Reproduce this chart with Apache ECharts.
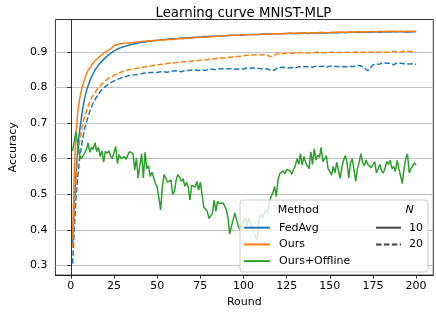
<!DOCTYPE html>
<html><head><meta charset="utf-8">
<script src="https://cdn.jsdelivr.net/npm/echarts@6/dist/echarts.min.js"></script>
<style>html,body{margin:0;padding:0;background:#fff}#c{width:436px;height:313px}</style>
</head><body><div id="c"></div>
<script>
const chartTitle = 'Learning curve MNIST-MLP';
const xName = 'Round';
const yName = 'Accuracy';
const xTicks = [0,25,50,75,100,125,150,175,200];
const yTicks = [0.3,0.4,0.5,0.6,0.7,0.8,0.9];
const rounds = Array.from({length:200},(_,i)=>i+1);
const methods = ['FedAvg','Ours','Ours+Offline'];
const nValues = ['10','20'];
const legendHeaders = ['Method','N'];

const fedavg10 = [
0.360,0.470,0.560,0.625,0.675,0.710,0.745,0.770,0.790,0.805,
0.818,0.830,0.840,0.849,0.856,0.863,0.869,0.874,0.879,0.884,
0.888,0.892,0.896,0.899,0.903,0.906,0.908,0.910,0.912,0.914,
0.915,0.917,0.918,0.919,0.921,0.922,0.923,0.924,0.925,0.926,
0.927,0.927,0.928,0.929,0.930,0.930,0.931,0.932,0.932,0.933,
0.933,0.934,0.934,0.935,0.935,0.935,0.936,0.936,0.937,0.937,
0.937,0.938,0.938,0.938,0.939,0.939,0.939,0.940,0.940,0.940,
0.941,0.941,0.941,0.942,0.942,0.942,0.943,0.942,0.943,0.943,
0.944,0.944,0.944,0.945,0.944,0.945,0.945,0.946,0.945,0.946,
0.946,0.946,0.947,0.946,0.947,0.947,0.947,0.948,0.947,0.948,
0.948,0.948,0.949,0.948,0.949,0.949,0.949,0.950,0.949,0.950,
0.950,0.950,0.950,0.951,0.950,0.951,0.951,0.951,0.951,0.951,
0.951,0.952,0.951,0.952,0.952,0.951,0.952,0.952,0.952,0.952,
0.952,0.953,0.952,0.953,0.953,0.953,0.952,0.953,0.953,0.953,
0.953,0.954,0.953,0.953,0.954,0.954,0.953,0.954,0.954,0.954,
0.954,0.954,0.954,0.955,0.954,0.954,0.955,0.955,0.954,0.955,
0.955,0.955,0.955,0.954,0.955,0.955,0.955,0.956,0.955,0.955,
0.955,0.956,0.955,0.956,0.956,0.955,0.956,0.956,0.955,0.956,
0.956,0.956,0.956,0.955,0.956,0.956,0.957,0.956,0.956,0.956,
0.957,0.956,0.956,0.957,0.956,0.957,0.956,0.956,0.957,0.956];

const fedavg20 = [
0.305,0.400,0.490,0.550,0.595,0.630,0.660,0.685,0.702,0.718,
0.733,0.746,0.757,0.766,0.774,0.782,0.788,0.794,0.799,0.803,
0.807,0.810,0.813,0.816,0.818,0.821,0.823,0.825,0.827,0.828,
0.830,0.831,0.832,0.834,0.835,0.835,0.837,0.836,0.838,0.838,
0.839,0.840,0.839,0.841,0.840,0.842,0.841,0.842,0.843,0.842,
0.843,0.844,0.842,0.844,0.845,0.843,0.845,0.846,0.844,0.846,
0.845,0.847,0.846,0.844,0.847,0.848,0.846,0.848,0.847,0.849,
0.847,0.849,0.850,0.848,0.850,0.849,0.851,0.848,0.850,0.851,
0.849,0.851,0.852,0.850,0.849,0.852,0.851,0.853,0.850,0.852,
0.851,0.853,0.850,0.852,0.854,0.851,0.853,0.852,0.854,0.852,
0.853,0.855,0.852,0.854,0.853,0.855,0.852,0.854,0.855,0.853,
0.854,0.853,0.855,0.852,0.850,0.847,0.845,0.849,0.854,0.856,
0.855,0.857,0.854,0.856,0.857,0.855,0.857,0.856,0.858,0.855,
0.857,0.858,0.856,0.858,0.857,0.859,0.856,0.858,0.860,0.857,
0.858,0.860,0.857,0.859,0.858,0.860,0.858,0.857,0.859,0.860,
0.858,0.860,0.857,0.859,0.861,0.858,0.860,0.859,0.861,0.858,
0.860,0.859,0.861,0.859,0.860,0.862,0.859,0.861,0.858,0.855,
0.850,0.847,0.852,0.858,0.864,0.867,0.865,0.869,0.866,0.868,
0.870,0.866,0.868,0.865,0.868,0.867,0.864,0.867,0.869,0.866,
0.868,0.865,0.867,0.869,0.866,0.868,0.866,0.865,0.867,0.865];

const ours10 = [
0.380,0.560,0.670,0.730,0.765,0.790,0.808,0.824,0.838,0.848,
0.856,0.863,0.869,0.875,0.879,0.884,0.888,0.892,0.897,0.900,
0.903,0.905,0.908,0.912,0.918,0.920,0.921,0.922,0.923,0.924,
0.924,0.925,0.925,0.926,0.926,0.927,0.927,0.928,0.928,0.929,
0.929,0.929,0.930,0.930,0.931,0.931,0.931,0.932,0.932,0.933,
0.933,0.934,0.933,0.934,0.935,0.934,0.935,0.936,0.935,0.936,
0.937,0.936,0.937,0.938,0.937,0.938,0.939,0.938,0.939,0.940,
0.939,0.940,0.941,0.940,0.941,0.942,0.941,0.942,0.942,0.943,
0.942,0.943,0.944,0.943,0.944,0.944,0.945,0.944,0.945,0.945,
0.946,0.945,0.946,0.946,0.947,0.946,0.947,0.947,0.948,0.947,
0.948,0.948,0.948,0.949,0.948,0.949,0.949,0.950,0.949,0.950,
0.950,0.949,0.950,0.951,0.950,0.951,0.950,0.951,0.951,0.952,
0.951,0.951,0.952,0.951,0.952,0.952,0.953,0.952,0.952,0.953,
0.953,0.952,0.953,0.953,0.954,0.953,0.953,0.954,0.953,0.954,
0.954,0.953,0.954,0.954,0.955,0.954,0.954,0.955,0.954,0.955,
0.955,0.954,0.955,0.955,0.956,0.955,0.955,0.956,0.955,0.956,
0.956,0.955,0.956,0.955,0.956,0.956,0.957,0.956,0.956,0.957,
0.956,0.956,0.957,0.956,0.957,0.957,0.956,0.957,0.958,0.957,
0.957,0.956,0.957,0.957,0.958,0.957,0.958,0.957,0.957,0.958,
0.957,0.958,0.957,0.958,0.958,0.957,0.958,0.957,0.958,0.958];

const ours20 = [
0.350,0.455,0.545,0.605,0.645,0.675,0.700,0.718,0.734,0.748,
0.760,0.771,0.779,0.786,0.793,0.799,0.805,0.810,0.815,0.819,
0.823,0.826,0.829,0.832,0.834,0.837,0.839,0.841,0.843,0.844,
0.846,0.847,0.849,0.850,0.851,0.852,0.853,0.854,0.855,0.856,
0.857,0.858,0.858,0.859,0.860,0.861,0.861,0.862,0.863,0.863,
0.864,0.865,0.865,0.866,0.867,0.866,0.868,0.868,0.869,0.869,
0.870,0.871,0.870,0.872,0.872,0.873,0.873,0.874,0.873,0.875,
0.875,0.876,0.876,0.877,0.876,0.878,0.878,0.879,0.878,0.880,
0.880,0.881,0.880,0.882,0.882,0.883,0.883,0.884,0.883,0.885,
0.885,0.886,0.885,0.887,0.887,0.888,0.887,0.889,0.888,0.889,
0.890,0.889,0.891,0.890,0.891,0.890,0.892,0.891,0.892,0.891,
0.892,0.891,0.892,0.890,0.888,0.886,0.887,0.891,0.894,0.895,
0.895,0.896,0.895,0.896,0.897,0.895,0.896,0.897,0.896,0.898,
0.897,0.896,0.898,0.897,0.898,0.896,0.897,0.898,0.897,0.899,
0.898,0.897,0.899,0.898,0.897,0.899,0.898,0.897,0.899,0.898,
0.899,0.897,0.898,0.900,0.898,0.899,0.898,0.900,0.899,0.898,
0.899,0.900,0.898,0.899,0.900,0.898,0.899,0.900,0.899,0.898,
0.899,0.900,0.899,0.898,0.900,0.899,0.898,0.899,0.900,0.898,
0.899,0.900,0.899,0.898,0.899,0.901,0.902,0.901,0.900,0.899,
0.900,0.901,0.902,0.901,0.902,0.903,0.901,0.900,0.899,0.898];

const oursOffline10 = [
0.622,0.650,0.676,0.640,0.612,0.600,0.607,0.616,0.626,0.644,
0.618,0.632,0.626,0.645,0.620,0.632,0.606,0.622,0.590,0.621,
0.615,0.622,0.608,0.600,0.618,0.634,0.586,0.612,0.600,0.596,
0.606,0.598,0.610,0.620,0.624,0.614,0.568,0.602,0.545,0.582,
0.614,0.546,0.618,0.572,0.580,0.550,0.562,0.566,0.530,0.520,
0.490,0.456,0.520,0.556,0.552,0.534,0.530,0.540,0.500,0.508,
0.540,0.556,0.548,0.536,0.544,0.522,0.534,0.520,0.484,0.526,
0.530,0.520,0.536,0.512,0.534,0.500,0.464,0.458,0.452,0.432,
0.440,0.446,0.484,0.452,0.480,0.474,0.470,0.476,0.468,0.458,
0.436,0.388,0.410,0.428,0.448,0.428,0.410,0.400,0.414,0.424,
0.434,0.412,0.432,0.420,0.405,0.395,0.380,0.372,0.430,0.443,
0.434,0.445,0.456,0.446,0.478,0.494,0.504,0.522,0.494,0.540,
0.558,0.563,0.566,0.558,0.570,0.572,0.566,0.556,0.570,0.580,
0.600,0.584,0.614,0.582,0.606,0.590,0.580,0.572,0.619,0.584,
0.628,0.596,0.610,0.604,0.632,0.592,0.594,0.608,0.572,0.564,
0.554,0.578,0.560,0.590,0.587,0.545,0.576,0.596,0.609,0.588,
0.545,0.588,0.600,0.570,0.536,0.572,0.590,0.614,0.590,0.580,
0.596,0.584,0.580,0.575,0.570,0.592,0.560,0.572,0.584,0.566,
0.560,0.574,0.592,0.584,0.596,0.572,0.578,0.564,0.595,0.572,
0.552,0.530,0.572,0.600,0.614,0.560,0.572,0.580,0.588,0.582];

const colorOf = {'FedAvg':'#1f77b4','Ours':'#ff7f0e','Ours+Offline':'#2ca02c'};
const nColor = '#444444';
const dash = [5.5, 2.4];
const FONT = 'DejaVu Sans';

function pairs(arr){ return arr.map((v,i)=>[rounds[i], v]); }
function line(name, arr, color, dashed){
  return {type:'line', name:name, data:pairs(arr), symbol:'none', showSymbol:false,
    lineStyle:{color:color, width:1.5, type: dashed ? dash : 'solid'},
    itemStyle:{color:color}, emphasis:{disabled:true}, animation:false, z:2};
}

const series = [
  line(methods[0], fedavg10, colorOf['FedAvg'], false),
  line(methods[0], fedavg20, colorOf['FedAvg'], true),
  line(methods[1], ours10, colorOf['Ours'], false),
  line(methods[1], ours20, colorOf['Ours'], true),
  line(methods[2], oursOffline10, colorOf['Ours+Offline'], false),
  {type:'line', name:nValues[0], data:[], symbol:'none', lineStyle:{color:nColor, width:1.5, type:'solid'}, itemStyle:{color:nColor}},
  {type:'line', name:nValues[1], data:[], symbol:'none', lineStyle:{color:nColor, width:1.5, type:dash}, itemStyle:{color:nColor}}
];

const legendCommon = {orient:'vertical', top:221.7, padding:0, itemHeight:12, itemGap:4.7, selectedMode:false,
  itemStyle:{opacity:0, borderWidth:0}};

const chart = echarts.init(document.getElementById('c'), null, {renderer:'canvas'});
chart.setOption({
  animation:false,
  backgroundColor:'#ffffff',
  textStyle:{fontFamily:FONT},
  title:{text:chartTitle, left:238.4, textAlign:'center', top:2,
    textStyle:{fontFamily:FONT, fontSize:13.3, fontWeight:'normal', color:'#000'}},
  grid:{left:43.5, right:2.7, top:19.5, bottom:35.3, show:true, borderColor:'#000', borderWidth:0.8, backgroundColor:'transparent', containLabel:false},
  xAxis:{type:'value', min:-8.95, max:209.95, name:xName, nameLocation:'middle', nameGap:21,
    nameTextStyle:{fontFamily:FONT, fontSize:11, color:'#000'},
    axisLine:{show:true, lineStyle:{color:'#000', width:0.8}},
    axisTick:{show:true, length:3.5, inside:false, customValues:xTicks, lineStyle:{color:'#000', width:0.8}},
    axisLabel:{customValues:xTicks, fontFamily:FONT, fontSize:11, color:'#000', margin:6},
    splitLine:{show:false}},
  yAxis:{type:'value', min:0.273, max:0.991, name:yName, nameLocation:'middle', nameGap:35, nameRotate:90,
    nameTextStyle:{fontFamily:FONT, fontSize:11, color:'#000'},
    axisLine:{show:true, lineStyle:{color:'#000', width:0.8}},
    axisTick:{show:true, length:3.5, inside:false, customValues:yTicks, lineStyle:{color:'#000', width:0.8}},
    axisLabel:{customValues:yTicks, fontFamily:FONT, fontSize:11, color:'#000', margin:8,
      formatter:(v)=>v.toFixed(1)},
    splitLine:{show:true, lineStyle:{color:'#b0b0b0', width:0.8}}},
  legend:[
    Object.assign({data:methods, left:243, itemWidth:26,
      textStyle:{fontFamily:FONT, fontSize:11, color:'#000', lineHeight:12, padding:[0,0,0,4]}}, legendCommon),
    Object.assign({data:nValues, left:375, itemWidth:25,
      textStyle:{fontFamily:FONT, fontSize:11, color:'#000', lineHeight:12, padding:[0,0,0,3]}}, legendCommon)
  ],
  graphic:[
    {type:'rect', z:3, shape:{x:240, y:200, width:188, height:72, r:3},
      style:{fill:'rgba(255,255,255,0.8)', stroke:'#cccccc', lineWidth:1}},
    {type:'text', z:5, x:277.7, y:210, style:{text:legendHeaders[0], font:'11px "DejaVu Sans"', fill:'#000', textVerticalAlign:'middle', verticalAlign:'middle'}},
    {type:'text', z:5, x:405.5, y:210, style:{text:legendHeaders[1], font:'italic 11px "DejaVu Sans"', fill:'#000', textVerticalAlign:'middle', verticalAlign:'middle'}}
  ],
  series:series
});
</script></body></html>
